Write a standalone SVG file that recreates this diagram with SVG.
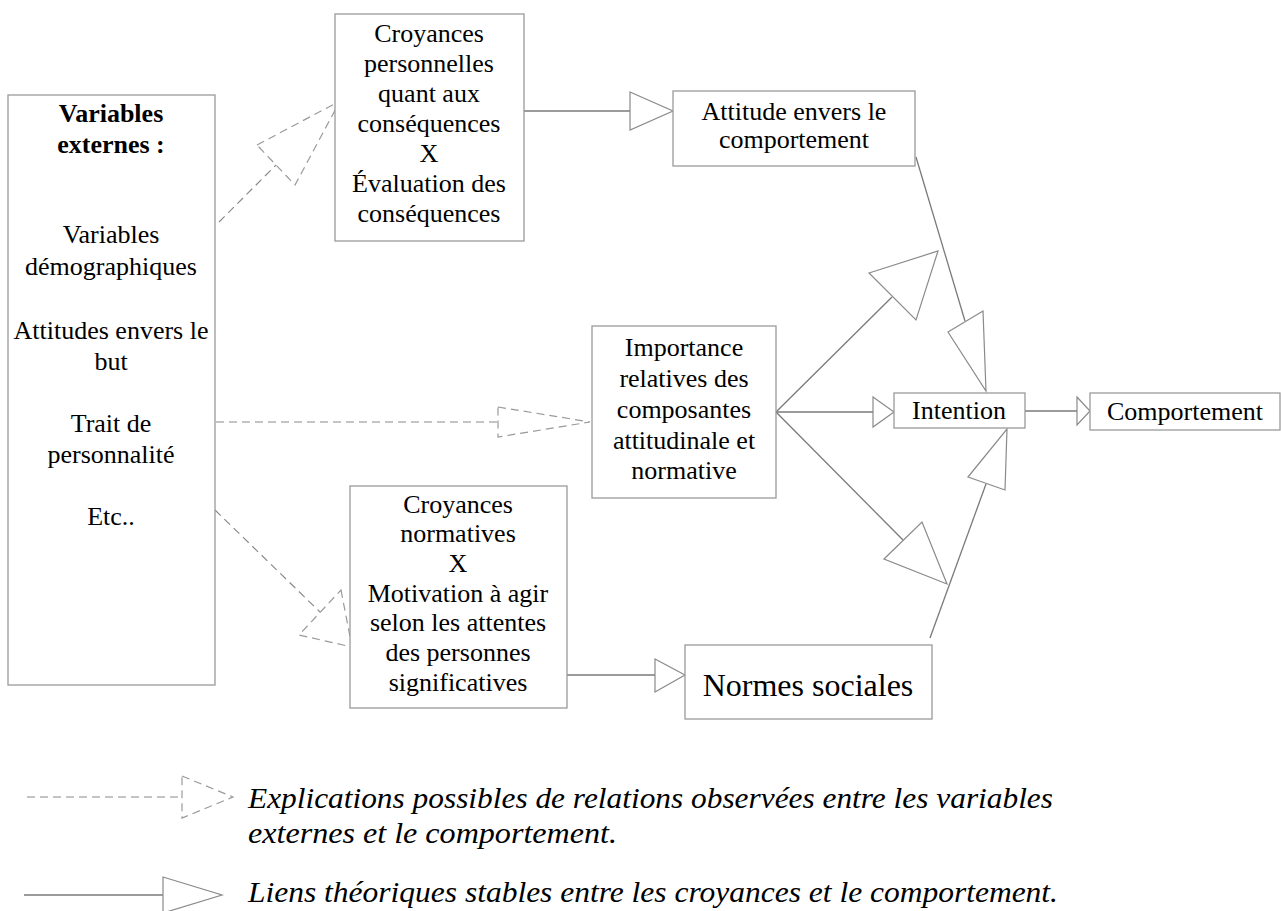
<svg xmlns="http://www.w3.org/2000/svg" width="1281" height="911" viewBox="0 0 1281 911">
<style>
.box{fill:#fff;stroke:#9a9a9a;stroke-width:1.3}
.t{font-family:'Liberation Serif','Times New Roman',serif;font-size:26px;fill:#000;text-anchor:middle}
.b{font-weight:bold}
.sl{fill:none;stroke:#7a7a7a;stroke-width:1.3}
.st{fill:#fff;stroke:#8a8a8a;stroke-width:1.2}
.dl{fill:none;stroke:#8a8a8a;stroke-width:1.2;stroke-dasharray:8,5}
.dt{fill:none;stroke:#9a9a9a;stroke-width:1.2;stroke-dasharray:8,5}
.lg{font-family:'Liberation Serif','Times New Roman',serif;font-size:30px;font-style:italic;fill:#000}
</style>
<rect width="1281" height="911" fill="#fff"/>
<g id="connectors">
<line class="dl" x1="219" y1="222" x2="276" y2="165"/>
<polygon class="dt" points="257,145 340,101 295,185"/>
<line class="dl" x1="216" y1="422" x2="498" y2="422"/>
<polygon class="dt" points="498,407 590,422 498,437"/>
<line class="dl" x1="215" y1="510" x2="320" y2="612"/>
<polygon class="dt" points="341,590 352,647 299,635"/>
<line class="sl" x1="524" y1="111" x2="630" y2="111"/>
<polygon class="st" points="630,92 673,111 630,130"/>
<line class="sl" x1="916" y1="157" x2="965" y2="321"/>
<polygon class="st" points="948,332 983,311 986,391"/>
<line class="sl" x1="776" y1="412" x2="873" y2="412"/>
<polygon class="st" points="873,397 894,412 873,427"/>
<line class="sl" x1="776" y1="412" x2="892" y2="297"/>
<polygon class="st" points="869,273 938,251 916,320"/>
<line class="sl" x1="776" y1="412" x2="903" y2="540"/>
<polygon class="st" points="884,559 922,522 947,584"/>
<line class="sl" x1="930" y1="638" x2="986" y2="484"/>
<polygon class="st" points="968,477 1007,429 1005,490"/>
<line class="sl" x1="1025" y1="411" x2="1077" y2="411"/>
<polygon class="st" points="1077,397 1090,411 1077,425"/>
<line class="sl" x1="567" y1="675" x2="655" y2="675"/>
<polygon class="st" points="655,659 685,675 655,692"/>
</g>
<g id="externes">
<rect class="box" x="8" y="95" width="207" height="590"/>
<text class="t b" x="111" y="122">Variables</text>
<text class="t b" x="111" y="153">externes :</text>
<text class="t" x="111" y="243">Variables</text>
<text class="t" x="111" y="275">démographiques</text>
<text class="t" x="111" y="339">Attitudes envers le</text>
<text class="t" x="111" y="370">but</text>
<text class="t" x="111" y="432">Trait de</text>
<text class="t" x="111" y="463">personnalité</text>
<text class="t" x="111" y="525">Etc..</text>
</g>
<g id="croyances-perso">
<rect class="box" x="335" y="14" width="189" height="227"/>
<text class="t" x="429" y="42">Croyances</text>
<text class="t" x="429" y="72">personnelles</text>
<text class="t" x="429" y="102">quant aux</text>
<text class="t" x="429" y="132">conséquences</text>
<text class="t" x="429" y="162">X</text>
<text class="t" x="429" y="192">Évaluation des</text>
<text class="t" x="429" y="222">conséquences</text>
</g>
<g id="attitude">
<rect class="box" x="673" y="91" width="242" height="75"/>
<text class="t" x="794" y="120">Attitude envers le</text>
<text class="t" x="794" y="148">comportement</text>
</g>
<g id="importance">
<rect class="box" x="592" y="326" width="184" height="172"/>
<text class="t" x="684" y="356">Importance</text>
<text class="t" x="684" y="387">relatives des</text>
<text class="t" x="684" y="418">composantes</text>
<text class="t" x="684" y="449">attitudinale et</text>
<text class="t" x="684" y="479">normative</text>
</g>
<g id="intention">
<rect class="box" x="894" y="393" width="131" height="35"/>
<text class="t" x="959" y="419">Intention</text>
</g>
<g id="comportement">
<rect class="box" x="1090" y="393" width="190" height="37"/>
<text class="t" x="1185" y="420">Comportement</text>
</g>
<g id="croyances-norm">
<rect class="box" x="350" y="486" width="217" height="222"/>
<text class="t" x="458" y="513">Croyances</text>
<text class="t" x="458" y="542">normatives</text>
<text class="t" x="458" y="572">X</text>
<text class="t" x="458" y="602">Motivation à agir</text>
<text class="t" x="458" y="631">selon les attentes</text>
<text class="t" x="458" y="661">des personnes</text>
<text class="t" x="458" y="691">significatives</text>
</g>
<g id="normes">
<rect class="box" x="685" y="645" width="247" height="74"/>
<text class="t" x="808" y="696" style="font-size:32px">Normes sociales</text>
</g>
<g id="legend">
<line class="dl" x1="27" y1="797" x2="182" y2="797"/>
<polygon class="dt" points="182,776 233,797 182,818"/>
<line class="sl" x1="24" y1="895" x2="163" y2="895"/>
<polygon class="st" points="163,877 222,895 163,913"/>
<text class="lg" x="248" y="808" textLength="805" lengthAdjust="spacingAndGlyphs">Explications possibles de relations observées entre les variables</text>
<text class="lg" x="248" y="843" textLength="369" lengthAdjust="spacingAndGlyphs">externes et le comportement.</text>
<text class="lg" x="248" y="902" textLength="810" lengthAdjust="spacingAndGlyphs">Liens théoriques stables entre les croyances et le comportement.</text>
</g>
</svg>
